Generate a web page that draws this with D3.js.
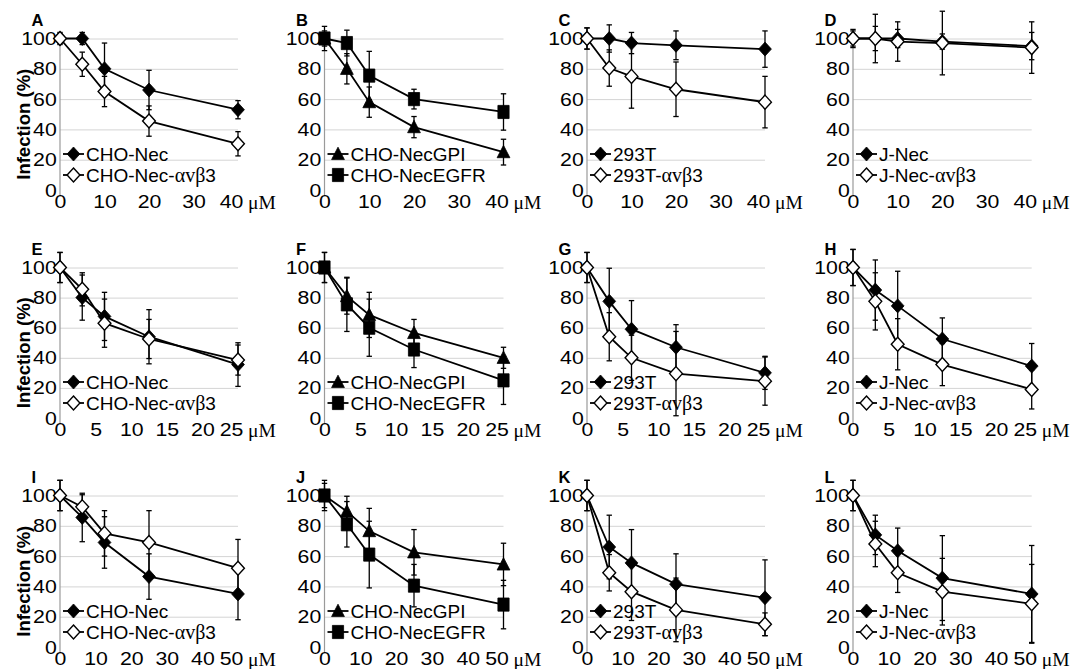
<!DOCTYPE html>
<html><head><meta charset="utf-8">
<script src="https://cdn.jsdelivr.net/npm/d3@7"></script>
<style>body{margin:0;background:#fff}svg{display:block}</style>
</head><body>
<svg id="c" width="1075" height="669"></svg>
<script>
// ---------- data ----------
const doseRow1 = [0, 5, 10, 20, 40];
const doseRow2 = [0, 3.125, 6.25, 12.5, 25];
const doseRow3 = [0, 6.25, 12.5, 25, 50];
const xTicksRow1 = [0, 10, 20, 30, 40];
const xTicksRow2 = [0, 5, 10, 15, 20, 25];
const xTicksRow3 = [0, 10, 20, 30, 40, 50];
const yTicks = [0, 20, 40, 60, 80, 100];
const panelLetters = ["A","B","C","D","E","F","G","H","I","J","K","L"];
const seriesNamesCol1 = ["CHO-Nec", "CHO-Nec-αvβ3"];
const seriesNamesCol2 = ["CHO-NecGPI", "CHO-NecEGFR"];
const seriesNamesCol3 = ["293T", "293T-αvβ3"];
const seriesNamesCol4 = ["J-Nec", "J-Nec-αvβ3"];

const A_s1 = [100, 100, 80, 66, 53],      A_e1 = [4, 4, 17, 13, 6];
const A_s2 = [100, 83, 65, 45.5, 30.5],   A_e2 = [3, 8, 10, 10, 8];
const B_s1 = [100, 80, 58, 41.5, 25],     B_e1 = [5, 10, 10, 7, 8.5];
const B_s2 = [100, 97, 75.5, 60, 51.5],   B_e2 = [8, 8.5, 16, 6.5, 12];
const C_s1 = [100, 100, 97, 95.5, 93],    C_e1 = [7, 9, 7, 9.5, 12];
const C_s2 = [100, 80.5, 75, 66.5, 58],   C_e2 = [7, 12, 21, 18, 17];
const D_s1 = [100, 100, 100, 98, 95],     D_e1 = [5, 8, 6, 5, 9];
const D_s2 = [100, 100, 98, 97, 94],      D_e2 = [6, 16, 13, 21, 17];
const E_s1 = [100, 80, 67.5, 54, 35.5],   E_e1 = [10, 15, 16, 18, 14.5];
const E_s2 = [100, 85.5, 63, 52.5, 38.5], E_e2 = [10, 11, 16, 13, 10];
const F_s1 = [100, 81, 68.5, 56.5, 40],   F_e1 = [10, 12, 15, 9, 7];
const F_s2 = [100, 75.5, 60, 45.5, 25],   F_e2 = [10, 18, 19, 12, 16];
const G_s1 = [100, 77.5, 59, 47, 30],     G_e1 = [10, 22, 19, 15, 11];
const G_s2 = [100, 54, 40, 29.5, 24.5],   G_e2 = [10, 16, 15, 28, 16];
const H_s1 = [100, 85, 74.5, 52.5, 34.5], H_e1 = [12, 20, 23, 14, 15];
const H_s2 = [100, 77.5, 49, 35.5, 19],   H_e2 = [12, 19, 17, 14, 13];
const I_s1 = [100, 85.5, 69, 46.5, 35],   I_e1 = [10, 16, 17, 15, 17];
const I_s2 = [100, 92.5, 75, 69, 52],     I_e2 = [10, 8, 15, 21, 19];
const J_s1 = [100, 89.5, 76.5, 62.5, 54.5], J_e1 = [8, 10, 15, 15, 14];
const J_s2 = [100, 81, 61, 40.5, 28],     J_e2 = [10, 15, 22, 14, 16];
const K_s1 = [100, 66, 55.5, 41.5, 32.5], K_e1 = [10, 21, 22, 20, 25];
const K_s2 = [100, 49, 36.5, 24.5, 15],   K_e2 = [10, 12, 19, 21, 7.5];
const L_s1 = [100, 74, 63.5, 45.5, 35],   L_e1 = [10, 13, 15, 28, 32];
const L_s2 = [100, 68, 49, 36.5, 28.5],   L_e2 = [10, 15, 13, 22, 26];

// ---------- layout ----------
const colX0 = [60, 324.5, 587, 853];
const colX1 = [238, 503.5, 765, 1031.7];
const rowY100 = [38.5, 267.5, 495.5];
const rowY0 = [190, 418, 647];
const doses = [doseRow1, doseRow2, doseRow3];
const xTicks = [xTicksRow1, xTicksRow2, xTicksRow3];
const names = [seriesNamesCol1, seriesNamesCol2, seriesNamesCol3, seriesNamesCol4];
const values = [
  [[A_s1,A_e1,A_s2,A_e2],[B_s1,B_e1,B_s2,B_e2],[C_s1,C_e1,C_s2,C_e2],[D_s1,D_e1,D_s2,D_e2]],
  [[E_s1,E_e1,E_s2,E_e2],[F_s1,F_e1,F_s2,F_e2],[G_s1,G_e1,G_s2,G_e2],[H_s1,H_e1,H_s2,H_e2]],
  [[I_s1,I_e1,I_s2,I_e2],[J_s1,J_e1,J_s2,J_e2],[K_s1,K_e1,K_s2,K_e2],[L_s1,L_e1,L_s2,L_e2]]
];

const SANS = "'Liberation Sans', Arial, sans-serif";
const SERIF = "'Liberation Serif', 'Times New Roman', serif";
const TICK_FS = 19, TICK_SX = 1.12;
const svg = d3.select("#c");

function markerPath(type) {
  if (type === "diamond" || type === "odiamond") return "M0,-7L6.4,0L0,7L-6.4,0Z";
  if (type === "square") return "M-5.6,-6.6H5.6V6.6H-5.6Z";
  if (type === "triangle") return "M0,-6.8L6.4,5.6L-6.4,5.6Z";
}
function drawMarker(g, type, x, y) {
  g.append("path").attr("d", markerPath(type))
    .attr("transform", `translate(${x},${y})`)
    .attr("fill", type === "odiamond" ? "#fff" : "#000")
    .attr("stroke", "#000").attr("stroke-width", type === "odiamond" ? 1.4 : 0.8);
}
function labelText(sel, name) {
  const i = name.indexOf("αvβ");
  if (i < 0) { sel.text(name); return; }
  sel.append("tspan").text(name.slice(0, i));
  sel.append("tspan").attr("font-family", SERIF).attr("font-size", 20).text("αvβ");
  sel.append("tspan").text(name.slice(i + 3));
}

for (let r = 0; r < 3; r++) {
  for (let c = 0; c < 4; c++) {
    const x0 = colX0[c], x1 = colX1[c], y0 = rowY0[r], y100 = rowY100[r];
    const dose = doses[r];
    const xMax = d3.max(dose);
    const x = d3.scaleLinear().domain([0, xMax]).range([x0, x1]);
    const y = d3.scaleLinear().domain([0, 100]).range([y0, y100]);
    const g = svg.append("g");

    // gridlines
    const grid = g.append("g").attr("transform", `translate(${x0},0)`)
      .call(d3.axisLeft(y).tickValues(yTicks.filter(v => v > 0)).tickSize(-(x1 - x0)).tickFormat(""));
    grid.select(".domain").remove();
    grid.selectAll("line").attr("stroke", "#d4d4d4").attr("stroke-width", 1);

    // y axis line
    g.append("line").attr("x1", x0).attr("x2", x0).attr("y1", y100).attr("y2", y0 + 6)
      .attr("stroke", "#9a9a9a").attr("stroke-width", 1.2);

    // y tick labels
    const ya = g.append("g").attr("transform", `translate(${x0 - 1},0)`)
      .call(d3.axisLeft(y).tickValues(yTicks).tickSize(0).tickPadding(2));
    ya.select(".domain").remove();
    ya.selectAll("text").attr("font-family", SANS).attr("font-size", TICK_FS).attr("fill", "#000")
      .attr("transform", `scale(${TICK_SX},1)`);

    // x tick labels
    const xa = g.append("g").attr("transform", `translate(0,${y0 + 1.5})`)
      .call(d3.axisBottom(x).tickValues(xTicks[r]).tickSize(0).tickPadding(3).tickFormat(d3.format("d")));
    xa.select(".domain").remove();
    xa.selectAll("text").attr("font-family", SANS).attr("font-size", TICK_FS).attr("fill", "#000")
      .attr("transform", d => d === xMax ? `translate(-7,0) scale(${TICK_SX},1)` : `scale(${TICK_SX},1)`);
    g.append("text").attr("x", x1 + 10).attr("y", y0 + 18.5).attr("font-family", SERIF)
      .attr("font-size", 19.5).attr("fill", "#000").text("μM");

    // panel letter
    g.append("text").attr("x", x0 - 28.5).attr("y", y100 - 12.5).attr("font-family", SANS)
      .attr("font-weight", "bold").attr("font-size", 16.5).attr("fill", "#000")
      .text(panelLetters[r * 4 + c]);

    // y title
    if (c === 0) {
      const cy = (y0 + y100) / 2 + 10;
      g.append("text").attr("transform", `translate(29.5,${cy}) rotate(-90)`)
        .attr("text-anchor", "middle").attr("font-family", SANS).attr("font-weight", "bold")
        .attr("font-size", 18.5).attr("fill", "#000").text("Infection (%)");
    }

    const types = c === 1 ? ["triangle", "square"] : ["diamond", "odiamond"];
    const v = values[r][c];
    const series = [{ s: v[0], e: v[1], t: types[0] }, { s: v[2], e: v[3], t: types[1] }];
    const line = d3.line().x((d, i) => x(dose[i])).y(d => y(d));
    series.forEach(S => {
      g.append("path").attr("d", line(S.s)).attr("fill", "none")
        .attr("stroke", "#000").attr("stroke-width", 1.8);
    });
    series.forEach(S => {
      S.s.forEach((val, i) => {
        const xx = x(dose[i]), ya1 = y(val + S.e[i]), yb = y(val - S.e[i]);
        g.append("line").attr("x1", xx).attr("x2", xx).attr("y1", ya1).attr("y2", yb)
          .attr("stroke", "#000").attr("stroke-width", 1.3);
        [ya1, yb].forEach(yy => g.append("line").attr("x1", xx - 2.7).attr("x2", xx + 2.7)
          .attr("y1", yy).attr("y2", yy).attr("stroke", "#000").attr("stroke-width", 1.3));
      });
    });
    series.forEach(S => {
      S.s.forEach((val, i) => drawMarker(g, S.t, x(dose[i]), y(val)));
    });

    // legend
    const legY = [y0 - 36, y0 - 15];
    series.forEach((S, k) => {
      const ly = legY[k];
      g.append("line").attr("x1", x0 + 3).attr("x2", x0 + 24).attr("y1", ly).attr("y2", ly)
        .attr("stroke", "#000").attr("stroke-width", 1.8);
      drawMarker(g, S.t, x0 + 13.5, ly);
      const t = g.append("text").attr("x", x0 + 26).attr("y", ly).attr("dy", "0.35em")
        .attr("font-family", SANS).attr("font-size", 19).attr("fill", "#000");
      labelText(t, names[c][k]);
    });
  }
}
</script>
</body></html>
